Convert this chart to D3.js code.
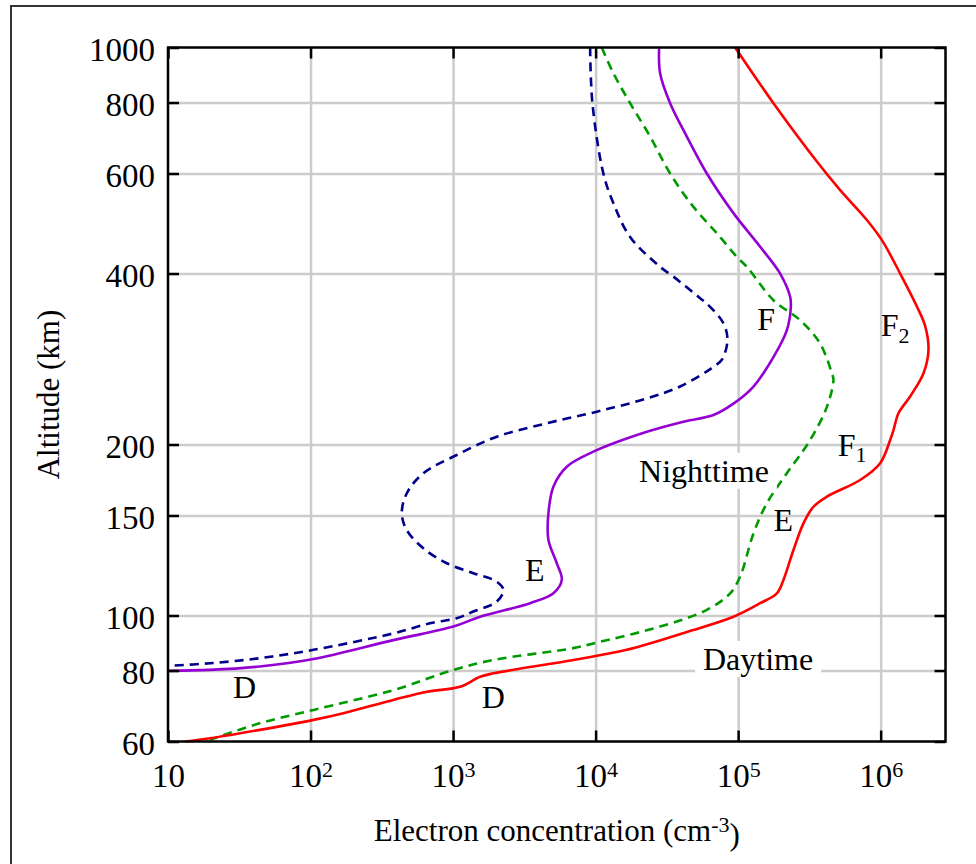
<!DOCTYPE html>
<html>
<head>
<meta charset="utf-8">
<script src="https://cdn.jsdelivr.net/npm/d3@7"></script>
<style>
  html, body { margin: 0; padding: 0; background: #fff; }
  svg text { font-family: "Liberation Serif", "Times New Roman", serif; fill: #000; }
</style>
</head>
<body>
<svg id="chart"></svg>
<script>
/*
    DATA (electron concentration in cm^-3, altitude in km)
*/

// nighttime, dashed
var nightDashedConc = [9150, 9500, 11340, 13330, 17460, 28350, 35160, 54120, 60320, 78870, 84120,
    76860, 67080, 60320, 39170, 22880, 10200, 4545, 2026, 1062, 619, 473, 437, 473, 619, 903,
    1388, 2026, 2254, 2026, 1388, 1062, 690, 381, 105, 44, 19.7, 10];
var nightDashedAlt = [1000, 798, 600, 532, 464, 411, 395, 362, 354, 327, 305,
    282, 274, 269, 253, 241, 228.5, 218, 206.4, 191.7, 178, 164, 151.3, 141.4, 131.3, 123.6,
    118.7, 114.7, 110.9, 105.8, 101.6, 98.9, 96.9, 93.0, 87.0, 84.1, 82.4, 81.5];

// nighttime, solid
var nightSolidConc = [27900, 28350, 33330, 43650, 60320, 92680, 142700, 197100, 231700, 234300,
    219700, 176900, 128100, 92680, 67080, 41310, 22880, 9650, 6280, 5057, 4665, 4665, 5342,
    5792, 5057, 3470, 1547, 1005, 381, 105, 44, 19.7, 10];
var nightSolidAlt = [1000, 901, 798, 697, 600, 511, 446, 400, 364, 350,
    318, 285, 253, 236, 225.4, 219.4, 210.6, 194.3, 182.8, 168.6, 151.3, 135.9, 123.6,
    115.5, 109.4, 105.1, 99.5, 95.6, 90.5, 83.8, 81.3, 80.2, 79.9];

// daytime, dashed
var dayDashedConc = [11050, 13330, 17460, 24130, 33330, 48570, 70880, 97930, 115100, 176900,
    272300, 376300, 454500, 466500, 419400, 320100, 219700, 159000, 128100, 103300, 87870,
    60320, 28350, 9650, 6990, 1918, 1005, 381, 105, 44, 19.7];
var dayDashedAlt = [1000, 901, 798, 697, 600, 524, 471, 428, 411, 359,
    331, 301, 267, 260, 233, 203.7, 178, 157.6, 139.5, 117.1, 109.4,
    102.3, 95.6, 89.3, 87.6, 83.5, 80.2, 73.9, 68.2, 64.6, 60.4];

// daytime, solid
var daySolidConc = [95280, 176900, 356800, 519700, 800300, 1.02e6, 1.37e6, 1.795e6, 2.054e6,
    2.165e6, 1.998e6, 1.61e6, 1.333e6, 1.23e6, 1.166e6, 992000, 718000, 419400, 337600, 287200,
    244400, 207900, 186900, 142700, 92680, 48570, 16550, 6990, 1918, 1547, 1120, 654, 381,
    170, 105, 44, 19.7, 13.2];
var daySolidAlt = [1000, 798, 630, 561, 497, 458, 400, 350, 323,
    293, 267, 243, 227, 212, 203.7, 185.4, 173.2, 161.9, 155.4, 145.3,
    130.4, 115.5, 109.4, 105.1, 99.5, 94.3, 87.0, 83.5, 79.1, 78.0, 74.9, 73.4, 71.0,
    67.3, 65.5, 62.9, 60.8, 60];

// ticks
var xTicks = [10, 1e2, 1e3, 1e4, 1e5, 1e6];
var yTicks = [60, 80, 100, 150, 200, 400, 600, 800, 1000];

// region labels
var labelText = ["F", "F", "F", "Nighttime", "Daytime", "E", "E", "D", "D"];
var labelSub = ["", "2", "1", "", "", "", "", "", ""];
var labelConc = [1.36e5, 1.0e6, 5.0e5, 2.02e4, 5.67e4, 1.77e5, 3200, 28.6, 1590];
var labelAlt = [318, 310, 191, 172, 80.2, 141, 115, 71.5, 68.8];
var labelBoxed = [false, false, false, true, true, false, false, false, false];

function zipSeries(conc, alt) {
    var out = [];
    for (var i = 0; i < conc.length; i++) {
        out.push({conc: conc[i], alt: alt[i]});
    }
    return out;
}

var series = [
    {data: zipSeries(nightDashedConc, nightDashedAlt), color: "#00008b", dash: "9,6"},
    {data: zipSeries(nightSolidConc, nightSolidAlt), color: "#9400d3", dash: null},
    {data: zipSeries(dayDashedConc, dayDashedAlt), color: "#009a00", dash: "9,6"},
    {data: zipSeries(daySolidConc, daySolidAlt), color: "#ff0000", dash: null}
];

/*
    MARGINS
*/
var svgWidth = 976, svgHeight = 864;
var margin = {top: 47.5, left: 168, right: 30.5, bottom: 122.5};
var width = svgWidth - margin.left - margin.right;
var height = svgHeight - margin.top - margin.bottom;

var svg = d3.select("#chart")
    .attr("width", svgWidth)
    .attr("height", svgHeight);

// outer frame (only left and top edges show)
svg.append("rect")
    .attr("x", 11).attr("y", 6)
    .attr("width", 1000).attr("height", 900)
    .attr("fill", "none")
    .attr("stroke", "#333")
    .attr("stroke-width", 2);

var g = svg.append("g")
    .attr("transform", "translate(" + margin.left + "," + margin.top + ")");

/*
    SCALES
*/
var xScale = d3.scaleLog().domain([10, 2.85e6]).range([0, width]);
var yScale = d3.scaleLog().domain([60, 1000]).range([height, 0]);

/*
    GRID
*/
function styleGrid(sel) {
    sel.select(".domain").remove();
    sel.selectAll("line").attr("stroke", "#cccccc").attr("stroke-width", 2.5);
}

g.append("g")
    .attr("transform", "translate(0," + height + ")")
    .call(d3.axisBottom(xScale).tickValues(xTicks.slice(1)).tickSize(-height).tickFormat(""))
    .call(styleGrid);

g.append("g")
    .call(d3.axisLeft(yScale).tickValues(yTicks.slice(1, -1)).tickSize(-width).tickFormat(""))
    .call(styleGrid);

/*
    CURVES
*/
var line = d3.line()
    .x(function(d) { return xScale(d.conc); })
    .y(function(d) { return yScale(d.alt); })
    .curve(d3.curveCatmullRom.alpha(0.5));

series.forEach(function(s) {
    g.append("path")
        .datum(s.data)
        .attr("fill", "none")
        .attr("stroke", s.color)
        .attr("stroke-width", 2.6)
        .attr("stroke-dasharray", s.dash)
        .attr("d", line);
});

/*
    REGION LABELS
*/
for (var i = 0; i < labelText.length; i++) {
    var lg = g.append("g");
    var t = lg.append("text")
        .attr("x", xScale(labelConc[i]))
        .attr("y", yScale(labelAlt[i]))
        .attr("font-size", "32px")
        .text(labelText[i]);
    if (labelSub[i]) {
        t.append("tspan").attr("dy", "0.3em").attr("font-size", "22px").text(labelSub[i]);
    }
    if (labelBoxed[i]) {
        var bb = t.node().getBBox();
        lg.insert("rect", "text")
            .attr("x", bb.x - 8).attr("y", bb.y)
            .attr("width", bb.width + 16).attr("height", bb.height)
            .attr("fill", "#fff");
    }
}

/*
    AXES AND TICKS
*/
function styleAxis(sel) {
    sel.select(".domain").remove();
    sel.selectAll(".tick line").attr("stroke", "#000").attr("stroke-width", 2.5);
    sel.selectAll(".tick text").attr("font-size", "33px").attr("fill", "#000")
        .attr("font-family", "\"Liberation Serif\", \"Times New Roman\", serif");
}

var xAxis = g.append("g")
    .attr("transform", "translate(0," + height + ")")
    .call(d3.axisBottom(xScale).tickValues(xTicks).tickSizeInner(-11).tickSizeOuter(0).tickFormat(""))
    .call(styleAxis);

xAxis.selectAll(".tick text")
    .attr("y", 45.5).attr("dy", null)
    .each(function(d) {
        var el = d3.select(this);
        el.text("10");
        var p = Math.round(Math.log10(d));
        if (p > 1) {
            el.append("tspan").attr("dy", "-0.45em").attr("font-size", "22px").text(p);
        }
    });

g.append("g")
    .call(d3.axisLeft(yScale).tickValues(yTicks).tickSizeInner(-11).tickSizeOuter(0)
        .tickPadding(13).tickFormat(d3.format("d")))
    .call(styleAxis)
    .selectAll(".tick text").attr("dy", "0.38em");

g.append("g")
    .call(d3.axisTop(xScale).tickValues(xTicks).tickSizeInner(-11).tickSizeOuter(0).tickFormat(""))
    .call(styleAxis);

g.append("g")
    .attr("transform", "translate(" + width + ",0)")
    .call(d3.axisRight(yScale).tickValues(yTicks).tickSizeInner(-11).tickSizeOuter(0).tickFormat(""))
    .call(styleAxis);

// plot frame
g.append("rect")
    .attr("width", width).attr("height", height)
    .attr("fill", "none")
    .attr("stroke", "#000")
    .attr("stroke-width", 2.5);

/*
    AXIS TITLES
*/
var xt = svg.append("text")
    .attr("x", margin.left + width / 2)
    .attr("y", 841)
    .attr("font-size", "31px")
    .style("text-anchor", "middle")
    .text("Electron concentration (cm");
xt.append("tspan").attr("dy", "-0.4em").attr("font-size", "22px").text("-3");
xt.append("tspan").attr("dy", "0.4em").text(")");

svg.append("text")
    .attr("transform", "rotate(-90)")
    .attr("x", -(margin.top + height / 2))
    .attr("y", 59)
    .attr("font-size", "31px")
    .style("text-anchor", "middle")
    .text("Altitude (km)");
</script>
</body>
</html>
